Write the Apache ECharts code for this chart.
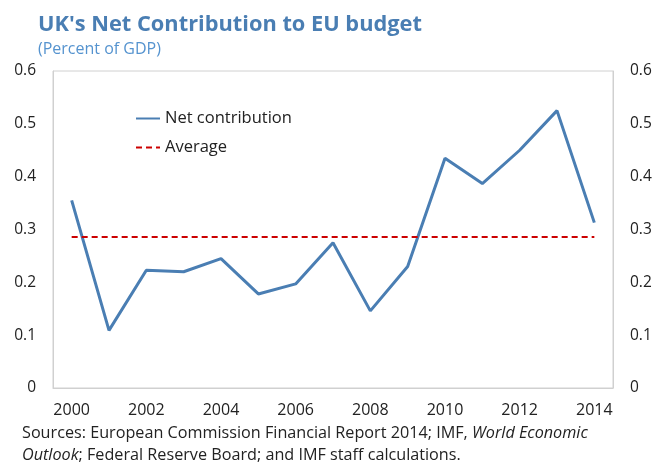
<!DOCTYPE html>
<html>
<head>
<meta charset="utf-8">
<script src="https://cdn.jsdelivr.net/npm/echarts@6/dist/echarts.min.js"></script>
<style>
  html, body { margin: 0; padding: 0; background: #fff; }
  #chart { width: 655px; height: 466px; }
</style>
</head>
<body>
<div id="chart"></div>
<script>
  // 数据
  const years = ['2000', '2001', '2002', '2003', '2004', '2005', '2006', '2007',
    '2008', '2009', '2010', '2011', '2012', '2013', '2014'];
  const netContribution = [0.355, 0.109, 0.223, 0.22, 0.245, 0.178, 0.197, 0.275,
    0.146, 0.23, 0.435, 0.387, 0.45, 0.525, 0.313];
  const average = [0.286, 0.286, 0.286, 0.286, 0.286, 0.286, 0.286, 0.286,
    0.286, 0.286, 0.286, 0.286, 0.286, 0.286, 0.286];

  const font = 'Open Sans';
  const chart = echarts.init(document.getElementById('chart'));

  const yAxisCommon = {
    type: 'value',
    min: 0,
    max: 0.6,
    interval: 0.1,
    axisLine: { show: true, lineStyle: { color: '#d0d0d0', width: 1 } },
    axisTick: { show: false },
    splitLine: { show: false },
    axisLabel: { color: '#222', fontSize: 15.5, fontFamily: font, margin: 17 }
  };

  const option = {
    animation: false,
    title: {
      text: "UK's Net Contribution to EU budget",
      subtext: '(Percent of GDP)',
      left: 33,
      top: 9,
      itemGap: 5,
      textStyle: { color: '#4a7eb3', fontSize: 21.8, fontWeight: 'bold', fontFamily: font },
      subtextStyle: { color: '#5593cf', fontSize: 16, fontFamily: font }
    },
    legend: {
      orient: 'vertical',
      left: 135,
      top: 110,
      padding: 0,
      itemWidth: 24,
      itemHeight: 14,
      itemGap: 12,
      itemStyle: { opacity: 0 },
      textStyle: { color: '#222', fontSize: 16.5, fontFamily: font },
      data: ['Net contribution', 'Average']
    },
    grid: {
      left: 53,
      right: 42,
      top: 71,
      bottom: 78,
      show: true,
      borderColor: '#d0d0d0',
      borderWidth: 1
    },
    xAxis: {
      type: 'category',
      data: years,
      boundaryGap: true,
      axisLine: { lineStyle: { color: '#d0d0d0' } },
      axisTick: { inside: true, length: 5, interval: 0, lineStyle: { color: '#c8c8c8' } },
      axisLabel: { interval: 1, color: '#222', fontSize: 16, fontFamily: font, margin: 14 }
    },
    yAxis: [
      Object.assign({ position: 'left' }, yAxisCommon),
      Object.assign({ position: 'right' }, yAxisCommon)
    ],
    series: [
      {
        name: 'Net contribution',
        type: 'line',
        data: netContribution,
        symbol: 'none',
        lineStyle: { color: '#4a7eb3', width: 3 },
        itemStyle: { color: '#4a7eb3' }
      },
      {
        name: 'Average',
        type: 'line',
        data: average,
        symbol: 'none',
        lineStyle: { color: '#cc0000', width: 2, type: [6, 4] },
        itemStyle: { color: '#cc0000' }
      }
    ],
    graphic: [
      {
        type: 'text',
        left: 22,
        top: 425,
        style: {
          text: '{n|Sources: European Commission Financial Report 2014; IMF, }{i|World Economic}\n{i|Outlook}{n|; Federal Reserve Board; and IMF staff calculations.}',
          rich: {
            n: { fontSize: 16.2, fontFamily: font, fill: '#222', lineHeight: 22 },
            i: { fontSize: 16.2, fontFamily: font, fill: '#222', fontStyle: 'italic', lineHeight: 22 }
          }
        }
      }
    ]
  };

  chart.setOption(option);
</script>
</body>
</html>
